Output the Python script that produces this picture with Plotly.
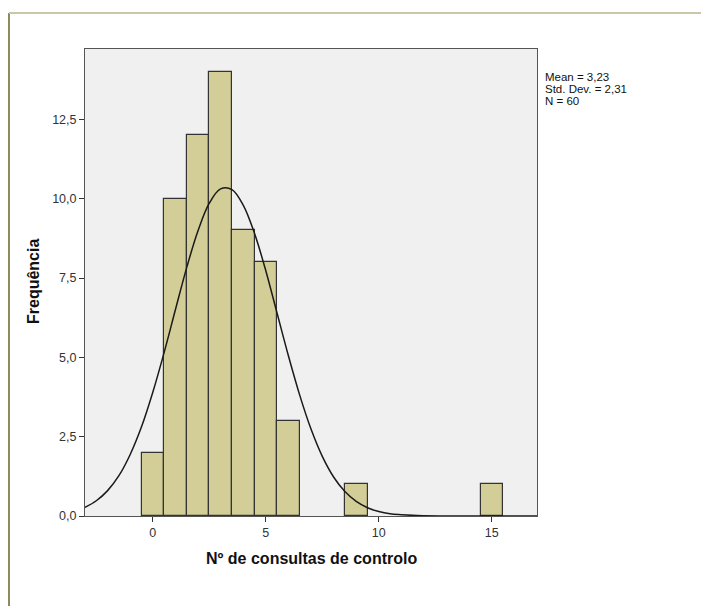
import plotly.graph_objects as go

# Histogram bins (centres) and counts
bin_centers = [0, 1, 2, 3, 4, 5, 6, 9, 15]
bin_counts = [2, 10, 12, 14, 9, 8, 3, 1, 1]

# Normal curve (x, frequency)
curve_x = [-3, -2.5, -2, -1.5, -1, -0.5, 0, 0.5, 1, 1.5, 2, 2.5, 3, 3.5, 4, 4.5,
           5, 5.5, 6, 6.5, 7, 7.5, 8, 8.5, 9, 9.5, 10, 10.5, 11, 11.5, 12, 13, 14, 15, 16, 17]
curve_y = [0.27, 0.48, 0.80, 1.27, 1.94, 2.81, 3.90, 5.15, 6.50, 7.83, 8.99, 9.86, 10.31, 10.29,
           9.80, 8.91, 7.73, 6.39, 5.05, 3.81, 2.74, 1.88, 1.23, 0.77, 0.46, 0.26, 0.14, 0.07,
           0.04, 0.02, 0.01, 0.0, 0.0, 0.0, 0.0, 0.0]

x_ticks = [0, 5, 10, 15]
y_ticks = [0, 2.5, 5, 7.5, 10, 12.5]
y_tick_labels = ["0,0", "2,5", "5,0", "7,5", "10,0", "12,5"]
stats_lines = ["Mean = 3,23", "Std. Dev. = 2,31", "N = 60"]

FONT = "Liberation Sans, Arial, sans-serif"

fig = go.Figure()
fig.add_trace(go.Bar(
    x=bin_centers, y=bin_counts, width=1,
    marker=dict(color="#d3ce97", line=dict(color="#333333", width=1.2)),
    hoverinfo="x+y", showlegend=False,
))
fig.add_trace(go.Scatter(
    x=curve_x, y=curve_y, mode="lines",
    line=dict(color="#1a1a1a", width=1.5, shape="spline"),
    showlegend=False, hoverinfo="skip", cliponaxis=True,
))

L, R, T, B = 85, 164, 49, 90
W, H = 701, 606
pw, ph = W - L - R, H - T - B

def px(xp):
    return (xp - L) / pw

def py(yp):
    return (H - B - yp) / ph

annotations = [
    dict(text="<b>Nº de consultas de controlo</b>", x=0.5, y=py(558), xref="paper", yref="paper",
         showarrow=False, font=dict(family=FONT, size=16, color="#111111"),
         xanchor="center", yanchor="middle"),
    dict(text="<b>Frequência</b>", x=px(33), y=py(282), xref="paper", yref="paper",
         showarrow=False, textangle=-90, font=dict(family=FONT, size=16, color="#111111"),
         xanchor="center", yanchor="middle"),
]
for i, line in enumerate(stats_lines):
    annotations.append(dict(text=line, x=px(544), y=py(77 + 12 * i), xref="paper", yref="paper",
                            showarrow=False, xanchor="left", yanchor="middle", borderpad=0,
                            font=dict(family=FONT, size=11.5, color="#111111")))

shapes = [
    dict(type="line", xref="paper", yref="paper", x0=px(9), x1=px(9), y0=py(13), y1=py(606),
         line=dict(color="#8c8c5a", width=2)),
    dict(type="line", xref="paper", yref="paper", x0=px(9), x1=px(701), y0=py(13), y1=py(13),
         line=dict(color="#c8c8a8", width=2)),
]

fig.update_layout(
    width=W, height=H,
    margin=dict(l=L, r=R, t=T, b=B),
    paper_bgcolor="white", plot_bgcolor="#f0f0f0",
    bargap=0,
    font=dict(family=FONT, size=12, color="#333333"),
    annotations=annotations,
    shapes=shapes,
)
fig.update_xaxes(range=[-3, 17], tickvals=x_ticks, ticktext=[str(v) for v in x_ticks],
                 showgrid=False, zeroline=False, showline=True, linecolor="#555555", linewidth=1,
                 mirror=True, ticks="outside", ticklen=5, tickcolor="#333333",
                 tickfont=dict(family=FONT, size=12.5, color="#333333"))
fig.update_yaxes(range=[0, 14.72], tickvals=y_ticks, ticktext=y_tick_labels,
                 showgrid=False, zeroline=False, showline=True, linecolor="#555555", linewidth=1,
                 mirror=True, ticks="outside", ticklen=5, tickcolor="#333333",
                 tickfont=dict(family=FONT, size=12.5, color="#333333"))

fig.write_html("out.html")
